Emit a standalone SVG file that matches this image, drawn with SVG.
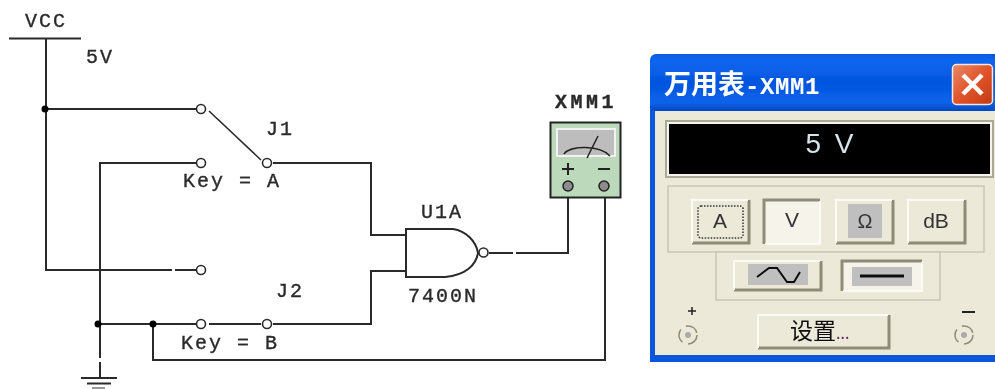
<svg xmlns="http://www.w3.org/2000/svg" width="995" height="389" viewBox="0 0 995 389">
<defs>
<linearGradient id="title" x1="0" y1="0" x2="0" y2="1">
<stop offset="0" stop-color="#0a5ae0"/><stop offset="0.12" stop-color="#0f66ee"/><stop offset="0.5" stop-color="#0355de"/><stop offset="0.85" stop-color="#0a62ea"/><stop offset="1" stop-color="#0347c0"/>
</linearGradient>
<linearGradient id="close" x1="0" y1="0" x2="1" y2="1">
<stop offset="0" stop-color="#ea8a68"/><stop offset="0.5" stop-color="#e0542a"/><stop offset="1" stop-color="#c23a14"/>
</linearGradient>
<filter id="soft" x="0" y="0" width="100%" height="100%"><feGaussianBlur stdDeviation="0.45"/></filter>
</defs>
<style>
.w{fill:none;stroke:#2b2b2b;stroke-width:2}
.t{stroke:#2b2b2b;stroke-width:1.6;fill:#fff}
.l{font-family:"Liberation Mono",monospace;font-size:20px;fill:#2a2a2a;letter-spacing:2px;stroke:#2a2a2a;stroke-width:.35}
.j{fill:#000}
.b{font-family:"Liberation Sans",sans-serif;font-size:21px;fill:#333;text-anchor:middle}
.hi{fill:none;stroke:#fbfaf4;stroke-width:2}
.sh{fill:none;stroke:#8f8b78;stroke-width:3}
.gb{fill:none;stroke:#c9c6b4;stroke-width:1.5}
.ic{fill:#bfbfbf}
</style>
<g filter="url(#soft)">
<rect width="995" height="389" fill="#fff"/>
<g id="connectors">
<path class="w" d="M46 38V270H172M175 270H196"/>
<path class="w" d="M45 109H196"/>
<path class="w" d="M209 111L261 160" style="stroke-width:1.6"/>
<path class="w" d="M196 163H100V358M100 362V378"/>
<path class="w" d="M273 163H371V235H406"/>
<path class="w" d="M406 271H371V324H273"/>
<path class="w" d="M261 324H209M196 324H98"/>
<path class="w" d="M153 324V360H605V186"/>
<path class="w" d="M489 253H513M516 253H568V186"/>
</g>
<g id="vcc">
<path class="w" d="M9 38.500H81"/>
<text class="l" x="25" y="27">VCC</text>
<text class="l" x="86" y="63">5V</text>
<circle class="j" cx="45" cy="109" r="3.500"/>
</g>
<g id="j1">
<circle class="t" cx="201" cy="109" r="4.500"/>
<circle class="t" cx="201" cy="163" r="4.500"/>
<circle class="t" cx="267" cy="163" r="4.500"/>
<text class="l" x="266" y="135">J1</text>
<text class="l" x="183" y="187">Key = A</text>
</g>
<g id="j2">
<circle class="t" cx="201" cy="270" r="4.500"/>
<circle class="t" cx="201" cy="324" r="4.500"/>
<circle class="t" cx="267" cy="324" r="4.500"/>
<circle class="j" cx="98" cy="324" r="3.500"/>
<circle class="j" cx="153" cy="324" r="3.500"/>
<text class="l" x="276" y="297">J2</text>
<text class="l" x="181" y="349">Key = B</text>
</g>
<g id="ground">
<path class="w" d="M81 378H117M87 383.500H111"/>
<path d="M92 388H105" stroke="#999" stroke-width="2"/>
</g>
<g id="u1a">
<path d="M406 229H453C466 231 476 241 478 253C476 265 466 275 445 277H406Z" fill="#fff" stroke="#2b2b2b" stroke-width="2"/>
<circle class="t" cx="483.500" cy="252.500" r="4.500"/>
<text class="l" x="421" y="218">U1A</text>
<text class="l" x="408" y="302">7400N</text>
</g>
<g id="xmm1">
<text class="l" x="555" y="108" style="letter-spacing:3.500px;font-weight:bold">XMM1</text>
<rect x="550.500" y="122.500" width="70" height="75" fill="#bcd9bb" stroke="#222" stroke-width="2"/>
<rect x="557" y="129" width="58" height="27" fill="#bdbdbd" stroke="#f2f2f2" stroke-width="2"/>
<path d="M564 154C570 145 600 145 610 156M587 158L598 136" fill="none" stroke="#222" stroke-width="1.500"/>
<path d="M562 169H574M568 163V175M598 169H610" stroke="#222" stroke-width="2"/>
<circle cx="568" cy="186" r="5" fill="#8c8c8c" stroke="#222" stroke-width="1.500"/>
<circle cx="604" cy="186" r="5" fill="#8c8c8c" stroke="#222" stroke-width="1.500"/>
</g>
<g id="window">
<path d="M650 66Q650 54 662 54H995V362H650Z" fill="#0a54dc"/>
<rect x="650" y="54" width="345" height="57" fill="url(#title)" rx="6"/>
<rect x="655" y="111" width="340" height="244" fill="#ece9d8"/>
<text x="664" y="94" font-family="'Noto Sans CJK SC',sans-serif" font-size="27" font-weight="700" fill="#fff">万用表<tspan font-family="'Liberation Mono',monospace" font-weight="700" font-size="24" letter-spacing=".6">-XMM1</tspan></text>
<rect x="952.500" y="64.500" width="40" height="40" rx="4" fill="url(#close)" stroke="#f3e6df" stroke-width="1.500"/>
<path d="M963 75L982 94M982 75L963 94" stroke="#fff" stroke-width="4.500"/>
<rect x="666" y="121" width="327" height="56" fill="#f6f4ea" stroke="#aaa896" stroke-width="2"/>
<rect x="669" y="124" width="321" height="50" fill="#000"/>
<text x="831" y="153" font-family="'Liberation Sans',sans-serif" font-size="28" fill="#d8e4ec" text-anchor="middle" letter-spacing="3">5 V</text>
<rect x="668" y="186" width="316" height="66" class="gb"/>
<rect x="716" y="252" width="224" height="48" class="gb" style="fill:#ece9d8"/>
<g id="btn-a"><path class="sh" d="M749 200V243H692"/><path class="hi" d="M692 243V200H748"/><rect x="698" y="206" width="45" height="32" rx="3" fill="none" stroke="#333" stroke-width="1.500" stroke-dasharray="1.500 1.500"/><text class="b" x="720" y="228">A</text></g>
<g id="btn-v"><rect x="764" y="199" width="56" height="45" fill="#f5f3ea"/><path class="sh" d="M764 244V200H820"/><path class="hi" d="M765 244H820V201"/><text class="b" x="792" y="227">V</text></g>
<g id="btn-ohm"><path class="sh" d="M893 200V243H836"/><path class="hi" d="M836 243V200H892"/><rect x="848" y="204" width="34" height="34" class="ic"/><text class="b" x="865" y="228" style="font-size:20px">Ω</text></g>
<g id="btn-db"><path class="sh" d="M965 200V243H908"/><path class="hi" d="M908 243V200H964"/><text class="b" x="936" y="228">dB</text></g>
<g id="btn-ac"><path class="sh" d="M821 261V290H734"/><path class="hi" d="M734 290V261H820"/><rect x="748" y="264" width="60" height="21" class="ic"/><path d="M757 277L769 268H777L787 282H794L800 272" fill="none" stroke="#111" stroke-width="2"/></g>
<g id="btn-dc"><rect x="842" y="260" width="80" height="31" fill="#f5f3ea"/><path class="sh" d="M842 291V261H922"/><path class="hi" d="M843 291H922V262"/><rect x="852" y="267" width="60" height="19" class="ic"/><path d="M860 276H904" stroke="#111" stroke-width="3"/></g>
<g id="btn-set"><path class="sh" d="M889 315V348H758"/><path class="hi" d="M758 348V315H888"/><text x="790" y="339" font-family="'Noto Sans CJK SC',sans-serif" font-size="23" fill="#111">设置<tspan font-size="16" fill="#553366">...</tspan></text></g>
<g id="term-plus"><path d="M688 311H696M692 307V315" stroke="#222" stroke-width="1.500"/><circle cx="688" cy="335" r="9" fill="none" stroke="#8f8b78" stroke-width="1.500" stroke-dasharray="14 6"/><circle cx="688" cy="335" r="3" fill="#aaa"/></g>
<g id="term-minus"><path d="M962 312H975" stroke="#222" stroke-width="2"/><circle cx="964" cy="335" r="9" fill="none" stroke="#8f8b78" stroke-width="1.500" stroke-dasharray="14 6"/><circle cx="964" cy="335" r="3" fill="#aaa"/></g>
</g>
</g>
</svg>
